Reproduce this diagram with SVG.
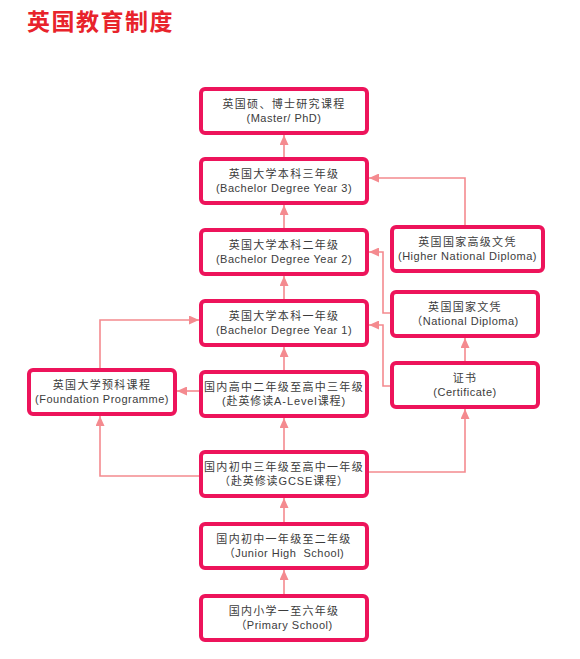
<svg xmlns="http://www.w3.org/2000/svg" width="580" height="659" viewBox="0 0 580 659">
<style>
.box{fill:#fff;stroke:#ED145B;stroke-width:4}
.c{fill:none;stroke:#F48A8F;stroke-width:1.6}
.zh{font-family:"Liberation Sans","Noto Sans CJK SC",sans-serif;font-size:11px;fill:#3c3c3c;text-anchor:middle;letter-spacing:1.3px}
.en{font-family:"Liberation Sans","Noto Sans CJK SC",sans-serif;font-size:11px;fill:#3c3c3c;text-anchor:middle;letter-spacing:0.5px}
.mx{font-family:"Liberation Sans","Noto Sans CJK SC",sans-serif;font-size:11px;fill:#3c3c3c;text-anchor:middle;letter-spacing:0.9px}
.title{font-family:"Noto Sans CJK SC",sans-serif;font-size:23px;font-weight:bold;fill:#E8232B;letter-spacing:1.5px}
</style>
<defs>
<marker id="ah" markerUnits="userSpaceOnUse" markerWidth="10" markerHeight="9" refX="10" refY="4.5" orient="auto">
<path d="M0,0 L10,4.5 L0,9 z" fill="#F48A8F"/>
</marker>
</defs>
<rect width="580" height="659" fill="#fff"/>
<text class="title" x="27" y="30">英国教育制度</text>
<g id="connectors">
<path class="c" d="M284 157 V135" marker-end="url(#ah)"/>
<path class="c" d="M284 228 V205" marker-end="url(#ah)"/>
<path class="c" d="M284 299 V276" marker-end="url(#ah)"/>
<path class="c" d="M284 370 V347" marker-end="url(#ah)"/>
<path class="c" d="M284 450 V418" marker-end="url(#ah)"/>
<path class="c" d="M284 522 V498" marker-end="url(#ah)"/>
<path class="c" d="M284 594 V570" marker-end="url(#ah)"/>
<path class="c" d="M100 368 V320 H199" marker-end="url(#ah)"/>
<path class="c" d="M199 391 H177" marker-end="url(#ah)"/>
<path class="c" d="M199 476 H100 V416" marker-end="url(#ah)"/>
<path class="c" d="M369 472 H465 V409" marker-end="url(#ah)"/>
<path class="c" d="M465 361 V338" marker-end="url(#ah)"/>
<path class="c" d="M390 386 H383 V325 H369" marker-end="url(#ah)"/>
<path class="c" d="M390 313 H383 V252 H369" marker-end="url(#ah)"/>
<path class="c" d="M465 225 V178 H369" marker-end="url(#ah)"/>
</g>
<g id="master"><rect class="box" x="201" y="89" width="166" height="44" rx="4"/><text class="zh" x="284" y="108">英国硕、博士研究课程</text><text class="en" x="284" y="122">(Master/ PhD)</text></g>
<g id="year3"><rect class="box" x="201" y="159" width="166" height="44" rx="4"/><text class="zh" x="284" y="178">英国大学本科三年级</text><text class="en" x="284" y="192">(Bachelor Degree Year 3)</text></g>
<g id="year2"><rect class="box" x="201" y="230" width="166" height="44" rx="4"/><text class="zh" x="284" y="249">英国大学本科二年级</text><text class="en" x="284" y="263">(Bachelor Degree Year 2)</text></g>
<g id="year1"><rect class="box" x="201" y="301" width="166" height="44" rx="4"/><text class="zh" x="284" y="320">英国大学本科一年级</text><text class="en" x="284" y="334">(Bachelor Degree Year 1)</text></g>
<g id="alevel"><rect class="box" x="201" y="372" width="166" height="44" rx="4"/><text class="zh" x="284" y="391">国内高中二年级至高中三年级</text><text class="mx" x="284" y="405">(赴英修读A-Level课程)</text></g>
<g id="gcse"><rect class="box" x="201" y="452" width="166" height="44" rx="4"/><text class="zh" x="284" y="471">国内初中三年级至高中一年级</text><text class="mx" x="284" y="485">（赴英修读GCSE课程）</text></g>
<g id="junior"><rect class="box" x="201" y="524" width="166" height="44" rx="4"/><text class="zh" x="284" y="543">国内初中一年级至二年级</text><text class="en" x="284" y="557">（Junior High&#160; School)</text></g>
<g id="primary"><rect class="box" x="201" y="596" width="166" height="44" rx="4"/><text class="zh" x="284" y="615">国内小学一至六年级</text><text class="en" x="284" y="629">（Primary School)</text></g>
<g id="foundation"><rect class="box" x="29" y="370" width="146" height="44" rx="4"/><text class="zh" x="102" y="389">英国大学预科课程</text><text class="en" x="102" y="403">(Foundation Programme)</text></g>
<g id="hnd"><rect class="box" x="392" y="227" width="151" height="44" rx="4"/><text class="zh" x="467.5" y="246">英国国家高级文凭</text><text class="en" x="467.5" y="260">(Higher National Diploma)</text></g>
<g id="nd"><rect class="box" x="392" y="292" width="146" height="44" rx="4"/><text class="zh" x="465" y="311">英国国家文凭</text><text class="en" x="465" y="325">（National Diploma)</text></g>
<g id="cert"><rect class="box" x="392" y="363" width="146" height="44" rx="4"/><text class="zh" x="465" y="382">证书</text><text class="en" x="465" y="396">(Certificate)</text></g>
</svg>
